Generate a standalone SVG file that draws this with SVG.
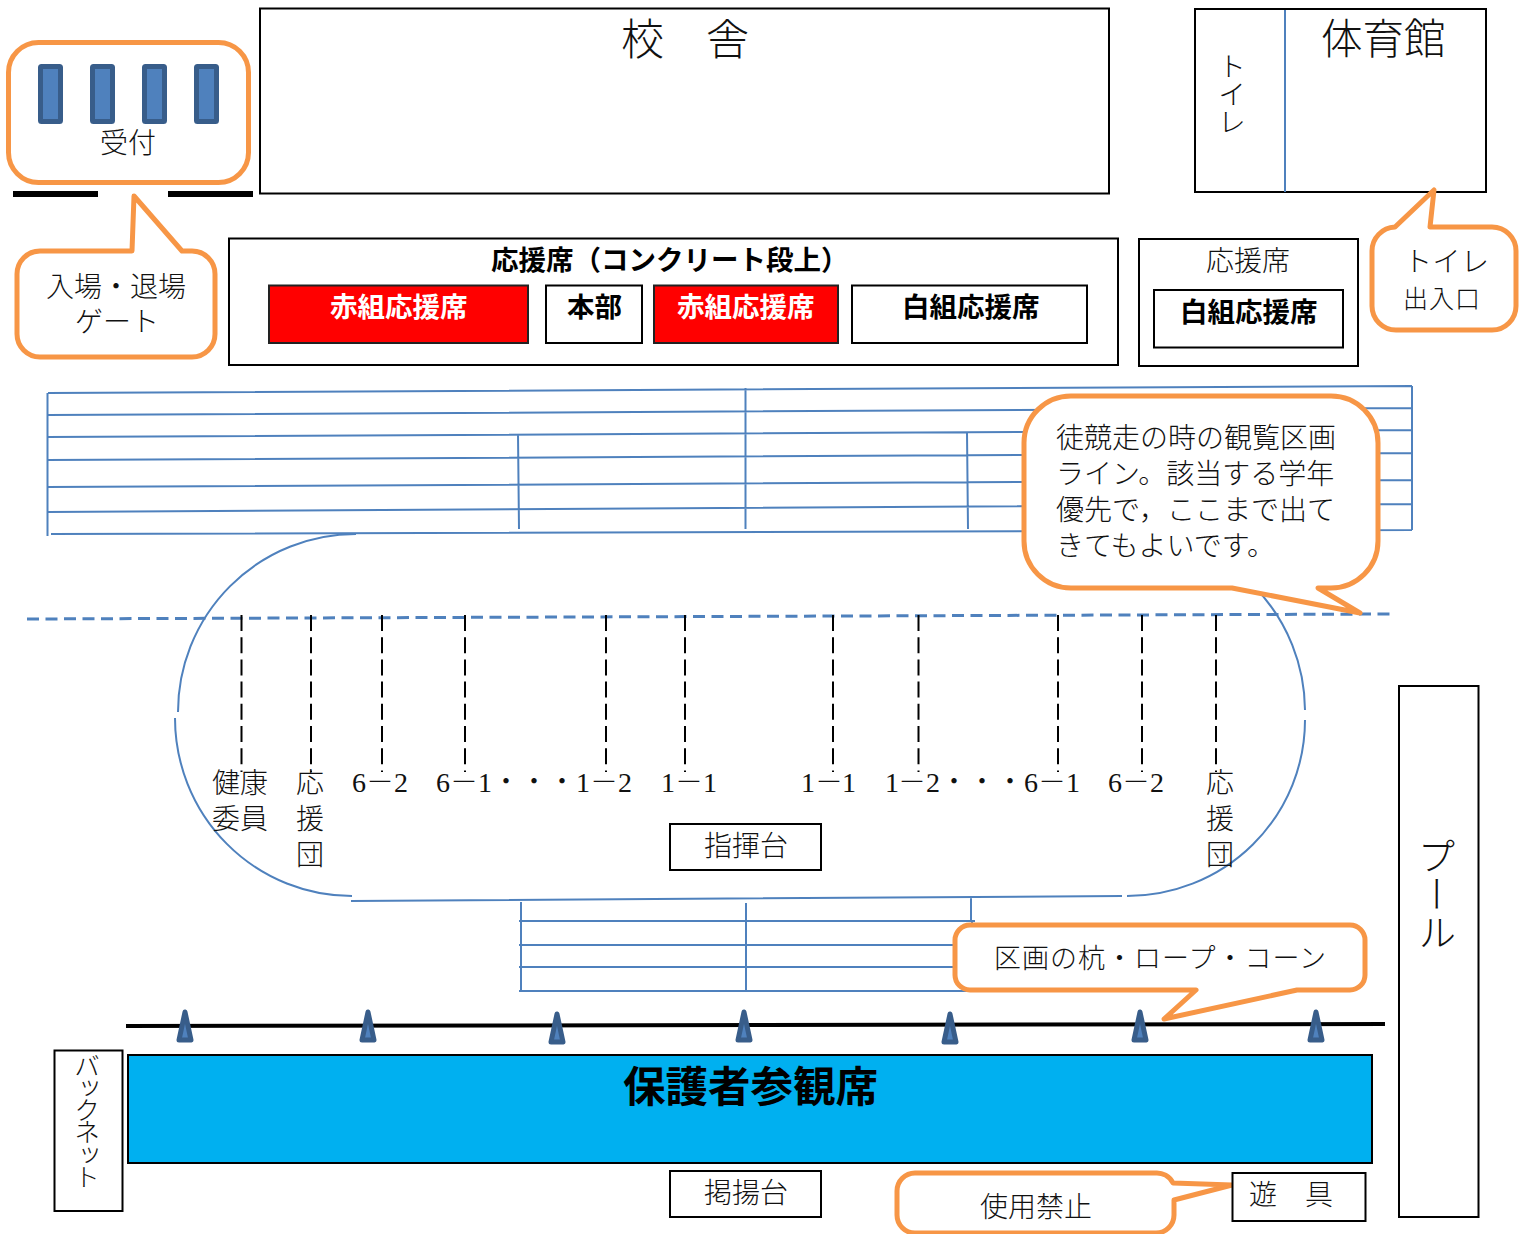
<svg xmlns="http://www.w3.org/2000/svg" width="1528" height="1234" viewBox="0 0 1528 1234">
<style>
text{font-family:"Liberation Serif","Noto Sans CJK JP",serif;font-weight:300;fill:#111;font-size:28px}
.cjk{font-family:"Noto Sans CJK JP",sans-serif}
.b{font-family:"Noto Sans CJK JP",sans-serif;font-weight:700;fill:#000;font-size:27.5px}
.w{fill:#fff}
.v{writing-mode:vertical-rl;font-family:"Noto Sans CJK JP",sans-serif}
.box{fill:#fff;stroke:#000;stroke-width:2}
.call{fill:#fff;stroke:#F79646;stroke-width:5;stroke-linejoin:round}
.grid{fill:none;stroke:#4F81BD;stroke-width:2}
.dash{fill:none;stroke:#000;stroke-width:2;stroke-dasharray:16 6.2}
.rc{fill:#4F81BD;stroke:#385D8A;stroke-width:5;stroke-linejoin:round}
</style>
<defs>
<polygon id="cone" class="rc" points="0,3 6,31 -6,31"/>
<rect id="stand" class="rc" x="0" y="0" width="20" height="55" rx="1"/>
</defs>
<rect width="1528" height="1234" fill="#fff"/>

<g id="connectors">
<path class="grid" d="M48,393L1412,386M48,415L1412,408M47,437L1412,430M47,460L1412,453M47,487L1412,480M48,512L1412,504M51,534L1412,530M47.500,393V536M745.500,388V529M518,434L519,529M967,432L968,529M1412,386V530"/>
<path class="grid" d="M356,534A178,178 0 0 0 178,712M175,718A177,178 0 0 0 352,896M1127,533A178,178 0 0 1 1305,710M1305,720A178,176 0 0 1 1127,896M351,901L1122,896M971,897V922"/>
<path class="grid" d="M519,921H975M519,945H975M519,967H975M519,991H975M521,902V990M746,903V990M972,921V992"/>
<path d="M27,619L1393,614" fill="none" stroke="#4F81BD" stroke-width="3" stroke-dasharray="12 6.500"/>
<path class="dash" d="M241.500,615V772M311,615V772M382,615V772M465,615V772M606,615V772M685,615V772M833,615V772M918.500,615V772M1058,615V772M1142,615V772M1216,615V772"/>
<path d="M126,1026L1385,1024" fill="none" stroke="#000" stroke-width="4"/>
<path d="M13,194H98M168,194H253" fill="none" stroke="#000" stroke-width="6"/>
</g>

<g id="school"><rect class="box" x="260" y="8.500" width="849" height="185"/><text x="621" y="55" style="font-size:43px" class="cjk">校</text><text x="706" y="55" style="font-size:43px" class="cjk">舎</text></g>
<g id="gym"><rect class="box" x="1195" y="9" width="291" height="183"/><path d="M1285,10V192" stroke="#4F81BD" stroke-width="2"/><text x="1321" y="54" class="cjk" style="font-size:41.500px">体育館</text><text class="v" x="1232" y="52" style="font-size:28px">トイレ</text></g>

<g id="reception"><rect class="call" x="8.500" y="42.500" width="240" height="140" rx="30"/>
<use href="#stand" x="40.500" y="66.500"/><use href="#stand" x="92.500" y="66.500"/><use href="#stand" x="144.500" y="66.500"/><use href="#stand" x="196.500" y="66.500"/>
<text x="100" y="153" class="cjk">受付</text></g>

<g id="gate"><path class="call" d="M40,251H132L134,196L182,251H192A23,23 0 0 1 215,274V334A23,23 0 0 1 192,357H40A23,23 0 0 1 17,334V274A23,23 0 0 1 40,251Z"/>
<text x="46" y="297" class="cjk">入場・退場</text><text x="75" y="332" class="cjk">ゲート</text></g>

<g id="stand-main"><rect class="box" x="229" y="238.500" width="889" height="126.500"/>
<text class="b" x="491" y="270" style="font-size:27.500px">応援席（コンクリート段上）</text>
<rect x="269" y="285.500" width="259" height="57.500" fill="#F00" stroke="#222" stroke-width="2"/><text class="b w" x="330" y="317">赤組応援席</text>
<rect class="box" x="546" y="285.500" width="96" height="57.500"/><text class="b" x="567" y="317">本部</text>
<rect x="654" y="285.500" width="184" height="57.500" fill="#F00" stroke="#222" stroke-width="2"/><text class="b w" x="677" y="317">赤組応援席</text>
<rect class="box" x="852" y="285.500" width="235" height="57.500"/><text class="b" x="902" y="317">白組応援席</text></g>

<g id="stand-side"><rect class="box" x="1139" y="239" width="219" height="127"/><text x="1206" y="271" class="cjk">応援席</text>
<rect class="box" x="1154" y="290" width="189" height="57.500"/><text class="b" x="1180" y="322">白組応援席</text></g>

<g id="toilet-entrance"><path class="call" d="M1395,227L1434,190L1430,227H1492A24,24 0 0 1 1516,251V306A24,24 0 0 1 1492,330H1396A24,24 0 0 1 1372,306V251A24,24 0 0 1 1395,227Z"/>
<text x="1404" y="272" class="cjk" style="letter-spacing:.5px">トイレ</text><text x="1403" y="308" class="cjk" style="font-size:25px;letter-spacing:1px">出入口</text></g>

<g id="lane-note"><path class="call" d="M1072,396H1331A47,47 0 0 1 1378,443V541A47,47 0 0 1 1331,588H1318L1360,613L1232,588H1071A47,47 0 0 1 1024,541V443A47,47 0 0 1 1072,396Z"/>
<text x="1056" y="448" class="cjk">徒競走の時の観覧区画</text><text x="1056" y="484" class="cjk">ライン。該当する学年</text><text x="1056" y="520" class="cjk">優先で，ここまで出て</text><text x="1056" y="556" class="cjk">きてもよいです。</text></g>

<g id="labels">
<text x="212" y="793" class="cjk">健康</text><text x="212" y="829" class="cjk">委員</text>
<text x="296" y="793" class="cjk">応</text><text x="296" y="829" class="cjk">援</text><text x="296" y="865" class="cjk">団</text>
<text y="792" text-anchor="middle" x="359 380 401">6－2</text>
<text y="792" text-anchor="middle" x="443 464 485 506 534 562 583 604 625">6－1・・・1－2</text>
<text y="792" text-anchor="middle" x="668 689 710">1－1</text>
<text y="792" text-anchor="middle" x="808 829 849">1－1</text>
<text y="792" text-anchor="middle" x="892 912 933 954 982 1010 1031 1052 1073">1－2・・・6－1</text>
<text y="792" text-anchor="middle" x="1115 1136 1157">6－2</text>
<text x="1206" y="793" class="cjk">応</text><text x="1206" y="829" class="cjk">援</text><text x="1206" y="865" class="cjk">団</text>
</g>

<g id="podium"><rect class="box" x="670" y="824" width="151" height="46"/><text x="704" y="856" class="cjk">指揮台</text></g>

<g id="rope-note"><path class="call" d="M970,925H1350A15,15 0 0 1 1365,940V975A15,15 0 0 1 1350,990H1297L1164,1019L1196,990H970A15,15 0 0 1 955,975V940A15,15 0 0 1 970,925Z"/>
<text x="994" y="968" class="cjk" style="font-size:27px;letter-spacing:1px">区画の杭・ロープ・コーン</text></g>

<g id="cones"><use href="#cone" x="185" y="1009"/><use href="#cone" x="368" y="1009"/><use href="#cone" x="557" y="1011"/><use href="#cone" x="744" y="1009"/><use href="#cone" x="950" y="1011"/><use href="#cone" x="1140" y="1009"/><use href="#cone" x="1316" y="1009"/></g>

<g id="backnet"><rect class="box" x="54.500" y="1050.500" width="68" height="160.500"/><text class="v" x="87" y="1053" style="font-size:26px;letter-spacing:-3.800px">バックネット</text></g>
<g id="parents"><rect x="128" y="1055" width="1244" height="108" fill="#00B0F0" stroke="#000" stroke-width="2"/><text class="b" x="623" y="1102" style="font-size:42.500px">保護者参観席</text></g>
<g id="flag"><rect class="box" x="670" y="1171" width="151" height="46"/><text x="704" y="1203" class="cjk">掲揚台</text></g>
<g id="ban-note"><path class="call" d="M915,1173H1155A18,18 0 0 1 1173,1183L1232,1185L1174,1200V1215A18,18 0 0 1 1156,1233H915A18,18 0 0 1 897,1215V1191A18,18 0 0 1 915,1173Z"/><text x="980" y="1217" class="cjk">使用禁止</text></g>
<g id="playground"><rect class="box" x="1232.500" y="1173" width="133" height="48"/><text x="1249" y="1205" class="cjk">遊</text><text x="1305" y="1205" class="cjk">具</text></g>
<g id="pool"><rect class="box" x="1399" y="686" width="79.500" height="531"/><text class="v" x="1437" y="837" style="font-size:38px">プール</text></g>
</svg>
